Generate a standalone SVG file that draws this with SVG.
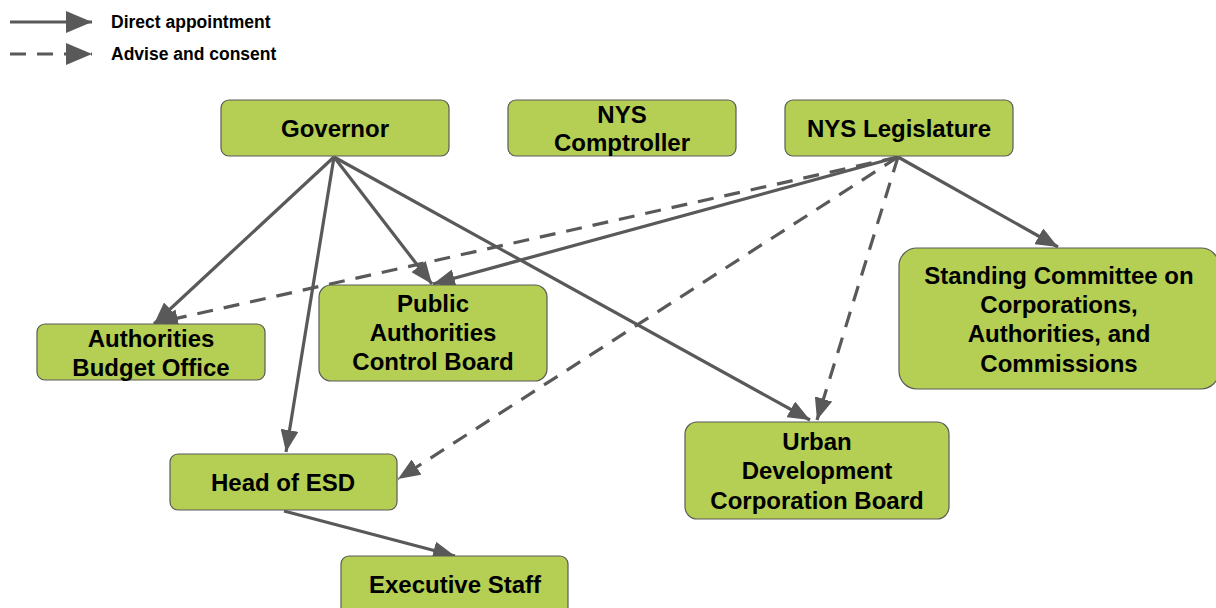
<svg xmlns="http://www.w3.org/2000/svg" width="1216" height="608" viewBox="0 0 1216 608">
<style>
.box{fill:#b4cf53;stroke:#5a5a5a;stroke-width:1.2}
.t{font-family:"Liberation Sans",Arial,sans-serif;font-weight:bold;font-size:24px;fill:#000;text-anchor:middle}
.lg{font-family:"Liberation Sans",Arial,sans-serif;font-weight:bold;font-size:17.5px;fill:#000}
.e{stroke:#595959;stroke-width:3.2;fill:none}
.d{stroke-dasharray:16 11}
</style>
<defs>
<marker id="ah" markerUnits="userSpaceOnUse" markerWidth="24" markerHeight="18" refX="22" refY="9" orient="auto">
<path d="M0,0 L22,9 L0,18 z" fill="#595959"/>
</marker>
<marker id="lah" markerUnits="userSpaceOnUse" markerWidth="28" markerHeight="22" refX="26" refY="11" orient="auto">
<path d="M0,0 L26,11 L0,22 z" fill="#595959"/>
</marker>
</defs>
<g id="legend">
<line class="e" x1="10" y1="22" x2="92" y2="22" marker-end="url(#lah)"/>
<line class="e d" x1="10" y1="54" x2="92" y2="54" marker-end="url(#lah)"/>
<text class="lg" x="111" y="28">Direct appointment</text>
<text class="lg" x="111" y="60">Advise and consent</text>
</g>
<g id="connectors">
<line class="e" x1="334" y1="157" x2="154" y2="324" marker-end="url(#ah)"/>
<line class="e" x1="334" y1="157" x2="286" y2="452" marker-end="url(#ah)"/>
<line class="e" x1="334" y1="157" x2="432" y2="284" marker-end="url(#ah)"/>
<line class="e" x1="334" y1="157" x2="810" y2="420" marker-end="url(#ah)"/>
<line class="e" x1="898" y1="157" x2="433" y2="284" marker-end="url(#ah)"/>
<line class="e d" x1="898" y1="157" x2="156" y2="323" marker-end="url(#ah)"/>
<line class="e d" x1="898" y1="157" x2="398" y2="479" marker-end="url(#ah)"/>
<line class="e d" x1="898" y1="157" x2="817" y2="420" marker-end="url(#ah)"/>
<line class="e" x1="898" y1="157" x2="1058" y2="247" marker-end="url(#ah)"/>
<line class="e" x1="284" y1="511" x2="455" y2="556" marker-end="url(#ah)"/>
</g>
<g id="governor"><rect class="box" x="221" y="100" width="228" height="56" rx="8"/><text class="t" x="335" y="137">Governor</text></g>
<g id="comptroller"><rect class="box" x="508" y="100" width="228" height="56" rx="8"/><text class="t" x="622" y="123">NYS</text><text class="t" x="622" y="151">Comptroller</text></g>
<g id="legislature"><rect class="box" x="785" y="100" width="228" height="56" rx="8"/><text class="t" x="899" y="137">NYS Legislature</text></g>
<g id="abo"><rect class="box" x="37" y="324" width="228" height="56" rx="8"/><text class="t" x="151" y="347">Authorities</text><text class="t" x="151" y="376">Budget Office</text></g>
<g id="pacb"><rect class="box" x="319" y="285" width="228" height="96" rx="12"/><text class="t" x="433" y="312">Public</text><text class="t" x="433" y="341">Authorities</text><text class="t" x="433" y="370">Control Board</text></g>
<g id="standing"><rect class="box" x="899" y="248" width="320" height="141" rx="18"/><text class="t" x="1059" y="284">Standing Committee on</text><text class="t" x="1059" y="313">Corporations,</text><text class="t" x="1059" y="342">Authorities, and</text><text class="t" x="1059" y="372">Commissions</text></g>
<g id="esd"><rect class="box" x="170" y="454" width="227" height="56" rx="8"/><text class="t" x="283" y="491">Head of ESD</text></g>
<g id="udc"><rect class="box" x="685" y="422" width="264" height="97" rx="12"/><text class="t" x="817" y="450">Urban</text><text class="t" x="817" y="479">Development</text><text class="t" x="817" y="509">Corporation Board</text></g>
<g id="exec"><rect class="box" x="341" y="556" width="227" height="60" rx="8"/><text class="t" x="455" y="593">Executive Staff</text></g>
</svg>
